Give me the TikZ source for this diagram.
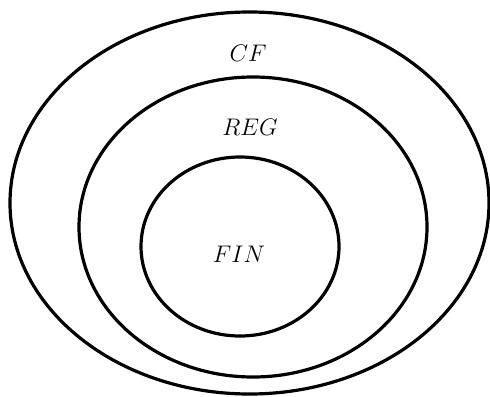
\documentclass[tikz,border=0pt]{standalone}
\usetikzlibrary{positioning}

\begin{document}
\begin{tikzpicture}[x=0.5pt, y=0.5pt, setline/.style={line width=1.6pt}, every node/.style={font=\large}]
  \useasboundingbox (0,0) rectangle (490,396);
  % nested classes
  \draw[setline] (249.5,193) ellipse [x radius=239.5, y radius=191];
  \draw[setline] (253,169) ellipse [x radius=174, y radius=150];
  \draw[setline] (240,149.5) ellipse [x radius=99, y radius=89.5];
  \node (cf) at (248,343) {$CF$};
  \node (reg) at (250,269) {$REG$};
  \node (fin) at (239,142) {$FIN$};
\end{tikzpicture}
\end{document}
